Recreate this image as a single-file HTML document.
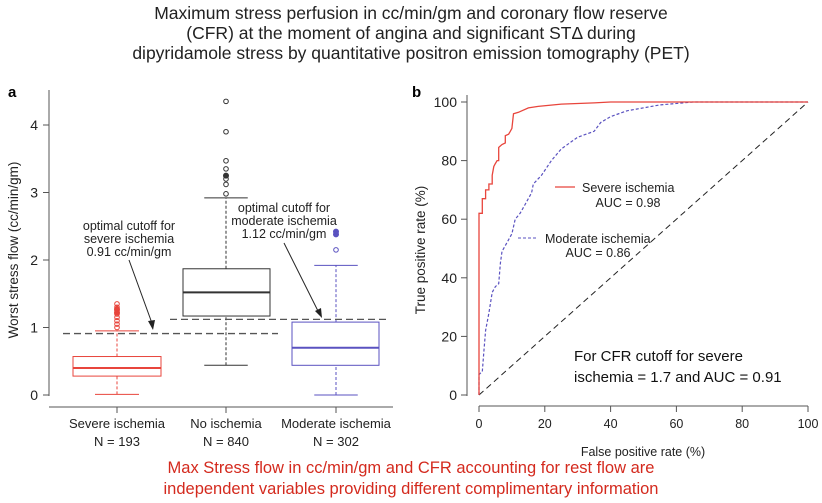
<!DOCTYPE html>
<html><head><meta charset="utf-8"><style>
html,body{margin:0;padding:0;background:#fff;}
svg{display:block;font-family:"Liberation Sans",sans-serif;}
</style></head><body>
<svg id="s" width="822" height="503" viewBox="0 0 822 503" xmlns="http://www.w3.org/2000/svg">
<g font-size="17.5" fill="#222" text-anchor="middle">
<text x="411" y="19">Maximum stress perfusion in cc/min/gm and coronary flow reserve</text>
<text x="411" y="39">(CFR) at the moment of angina and significant STΔ during</text>
<text x="411" y="59">dipyridamole stress by quantitative positron emission tomography (PET)</text>
</g>
<g font-size="16.5" fill="#d42a1e" text-anchor="middle">
<text x="411" y="473">Max Stress flow in cc/min/gm and CFR accounting for rest flow are</text>
<text x="411" y="494">independent variables providing different complimentary information</text>
</g>
<text x="8" y="97" font-size="15" font-weight="bold">a</text>
<text x="412" y="97" font-size="15" font-weight="bold">b</text>
<g id="L" stroke-width="1"></g>
<g id="R"></g>
</svg>
<script>
const NS="http://www.w3.org/2000/svg";
function el(p,t,a,txt){const e=document.createElementNS(NS,t);for(const k in a)e.setAttribute(k,a[k]);if(txt!==undefined)e.textContent=txt;p.appendChild(e);return e;}
const L=document.getElementById('L'),R=document.getElementById('R');
const y=v=>395-67.5*v;
el(L,'line',{x1:49,y1:90,x2:49,y2:396,stroke:'#555'});
el(L,'line',{x1:49,y1:407,x2:393,y2:407,stroke:'#555'});
[0,1,2,3,4].forEach(v=>{el(L,'line',{x1:43,y1:y(v),x2:49,y2:y(v),stroke:'#555'});el(L,'text',{x:38,y:y(v)+5,'font-size':14,'text-anchor':'end',fill:'#222'},v);});
[117,226,336].forEach(x=>el(L,'line',{x1:x,y1:407,x2:x,y2:413,stroke:'#555'}));
el(L,'text',{x:18,y:250,'font-size':13.5,'text-anchor':'middle',fill:'#222',transform:'rotate(-90 18 250)'},'Worst stress flow (cc/min/gm)');
[[117,'Severe ischemia','N = 193'],[226,'No ischemia','N = 840'],[336,'Moderate ischemia','N = 302']].forEach(a=>{el(L,'text',{x:a[0],y:428,'font-size':13,'text-anchor':'middle',fill:'#222'},a[1]);el(L,'text',{x:a[0],y:446,'font-size':13,'text-anchor':'middle',fill:'#222'},a[2]);});
function box(cx,x0,x1,w0,q1,md,q3,w1,c,outs,filled){
 const hw=(x1-x0)/4;
 el(L,'line',{x1:cx,y1:y(w0),x2:cx,y2:y(q1),stroke:c,'stroke-dasharray':'3,2'});
 el(L,'line',{x1:cx,y1:y(q3),x2:cx,y2:y(w1),stroke:c,'stroke-dasharray':'3,2'});
 el(L,'line',{x1:cx-hw,y1:y(w0),x2:cx+hw,y2:y(w0),stroke:c});
 el(L,'line',{x1:cx-hw,y1:y(w1),x2:cx+hw,y2:y(w1),stroke:c});
 el(L,'rect',{x:x0,y:y(q3),width:x1-x0,height:y(q1)-y(q3),fill:'none',stroke:c});
 el(L,'line',{x1:x0,y1:y(md),x2:x1,y2:y(md),stroke:c,'stroke-width':2});
 outs.forEach(o=>el(L,'circle',{cx:cx,cy:y(o),r:2.3,fill:'none',stroke:c}));
 (filled||[]).forEach(o=>el(L,'circle',{cx:cx,cy:y(o),r:2.5,fill:c,stroke:c}));
}
box(117,73,161,0.01,0.28,0.40,0.57,0.95,'#e8453c',[1.0,1.05,1.1,1.15,1.2,1.25,1.3,1.35],[1.22,1.27]);
box(226,183,270,0.44,1.17,1.52,1.87,2.92,'#333',[2.98,3.12,3.2,3.35,3.47,3.9,4.35],[3.25]);
box(336,292,379,0.0,0.44,0.70,1.08,1.92,'#5a52c0',[2.15],[2.38,2.42]);
el(L,'line',{x1:63,y1:y(0.91),x2:278,y2:y(0.91),stroke:'#555','stroke-dasharray':'7,4','stroke-width':1.3});
el(L,'line',{x1:170,y1:y(1.12),x2:387,y2:y(1.12),stroke:'#555','stroke-dasharray':'7,4','stroke-width':1.3});
[['optimal cutoff for',129,230],['severe ischemia',129,243],['0.91 cc/min/gm',129,256]].forEach(a=>el(L,'text',{x:a[1],y:a[2],'font-size':12.5,'text-anchor':'middle',fill:'#222'},a[0]));
[['optimal cutoff for',284,212],['moderate ischemia',284,225],['1.12 cc/min/gm',284,238]].forEach(a=>el(L,'text',{x:a[1],y:a[2],'font-size':12.5,'text-anchor':'middle',fill:'#222'},a[0]));
el(L,'line',{x1:129,y1:260,x2:153,y2:326,stroke:'#222'});
el(L,'path',{d:'M153,330 l-5,-9 l7,-1 z',fill:'#222'});
el(L,'line',{x1:284,y1:243,x2:319,y2:313,stroke:'#222'});
el(L,'path',{d:'M322,318 l-7,-7 l6,-3 z',fill:'#222'});
const fx=f=>479+3.29*f, ty=t=>395-2.93*t;
el(R,'line',{x1:467,y1:95,x2:467,y2:396,stroke:'#555'});
el(R,'line',{x1:479,y1:406,x2:808,y2:406,stroke:'#555'});
[0,20,40,60,80,100].forEach(v=>{el(R,'line',{x1:461,y1:ty(v),x2:467,y2:ty(v),stroke:'#555'});el(R,'text',{x:457,y:ty(v)+5,'font-size':14,'text-anchor':'end',fill:'#222'},v);
 el(R,'line',{x1:fx(v),y1:406,x2:fx(v),y2:412,stroke:'#555'});el(R,'text',{x:fx(v),y:428,'font-size':12.5,'text-anchor':'middle',fill:'#222'},v);});
el(R,'text',{x:425,y:250,'font-size':13.5,'text-anchor':'middle',fill:'#222',transform:'rotate(-90 425 250)'},'True positive rate (%)');
el(R,'text',{x:643,y:456,'font-size':12.5,'text-anchor':'middle',fill:'#222'},'False positive rate (%)');
el(R,'line',{x1:fx(0),y1:ty(0),x2:fx(100),y2:ty(100),stroke:'#222','stroke-dasharray':'6,4'});
const red=[[0,0],[0,62],[1,62],[1,67],[2,67],[2,70],[3,70],[3,72],[4,72],[4,75],[4.5,78],[5,79],[5.5,80],[6,80],[6,84.5],[7,85.5],[8,86],[8,88.5],[9,89],[9.5,90],[10,91],[10.5,96],[12,96.5],[13,97],[15,98],[18,98.5],[25,99.3],[35,99.7],[40,100],[100,100]];
const blue=[[0,0],[0,7],[1,8],[1.5,15],[2,22],[3,28],[4,35],[5,37],[6,38],[6.5,45],[7,49],[8.5,52],[10,55],[11,60],[12.5,62],[14,65],[16,69],[16.5,72],[19,75],[22,80],[25,84],[30,88],[35,90],[37,93],[40,95],[45,97],[55,99],[65,100],[100,100]];
const pth=a=>'M'+a.map(p=>fx(p[0]).toFixed(1)+','+ty(p[1]).toFixed(1)).join(' L');
el(R,'path',{d:pth(blue),fill:'none',stroke:'#5a52c0','stroke-dasharray':'3,2','stroke-width':1.2});
el(R,'path',{d:pth(red),fill:'none',stroke:'#e8453c','stroke-width':1.3});
el(R,'line',{x1:555,y1:187,x2:575,y2:187,stroke:'#e8453c','stroke-width':1.3});
el(R,'text',{x:582,y:192,'font-size':12.5,fill:'#222'},'Severe ischemia');
el(R,'text',{x:628,y:207,'font-size':12.5,'text-anchor':'middle',fill:'#222'},'AUC = 0.98');
el(R,'line',{x1:518,y1:238,x2:538,y2:238,stroke:'#5a52c0','stroke-dasharray':'3,2'});
el(R,'text',{x:545,y:243,'font-size':12.5,fill:'#222'},'Moderate ischemia');
el(R,'text',{x:598,y:257,'font-size':12.5,'text-anchor':'middle',fill:'#222'},'AUC = 0.86');
el(R,'text',{x:574,y:361,'font-size':15,fill:'#111'},'For CFR cutoff for severe');
el(R,'text',{x:574,y:382,'font-size':15,fill:'#111'},'ischemia = 1.7 and AUC = 0.91');
</script>
</body></html>
